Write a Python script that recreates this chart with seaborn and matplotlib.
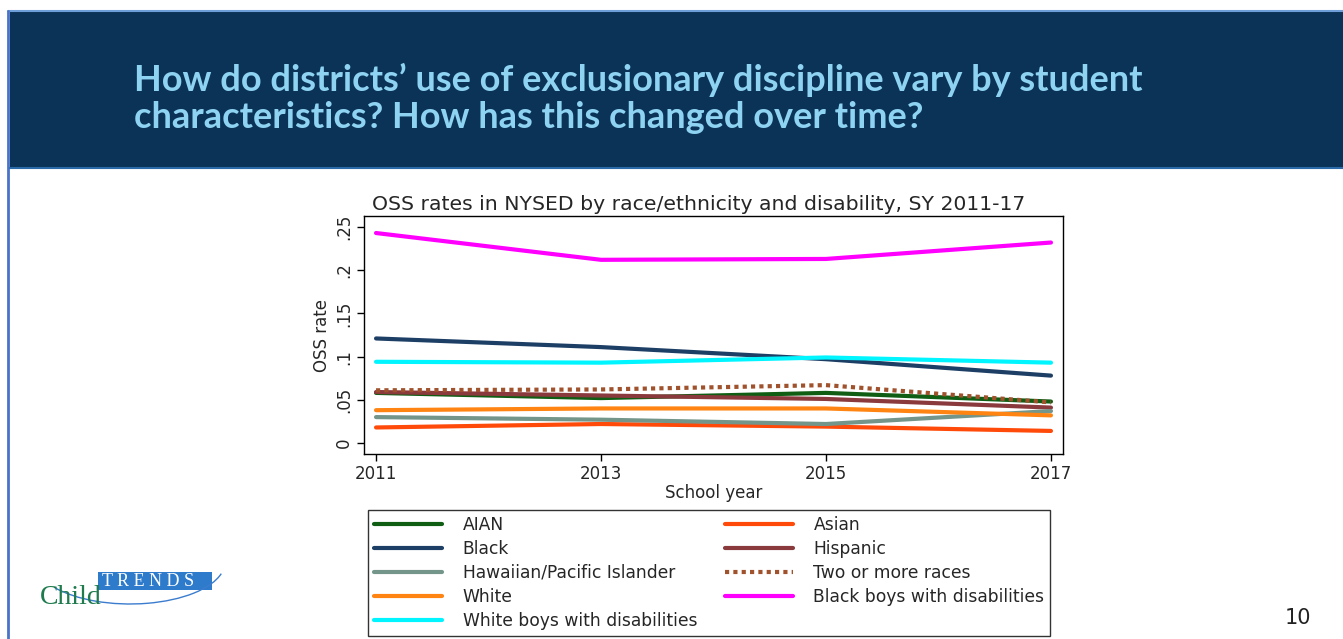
import numpy as np
import pandas as pd
import matplotlib.pyplot as plt
import matplotlib.patches as mpatches
from matplotlib.lines import Line2D
import seaborn as sns

years = [2011, 2013, 2015, 2017]

aian = [0.058, 0.052, 0.058, 0.048]
asian = [0.018, 0.022, 0.019, 0.014]
black = [0.121, 0.111, 0.097, 0.078]
hispanic = [0.059, 0.055, 0.051, 0.041]
hawaiian = [0.030, 0.027, 0.022, 0.037]
two_more = [0.061, 0.062, 0.067, 0.047]
white = [0.038, 0.040, 0.040, 0.032]
black_boys_dis = [0.243, 0.212, 0.213, 0.232]
white_boys_dis = [0.094, 0.093, 0.099, 0.093]

groups = {
    "AIAN": aian,
    "Asian": asian,
    "Black": black,
    "Hispanic": hispanic,
    "Hawaiian/Pacific Islander": hawaiian,
    "Two or more races": two_more,
    "White": white,
    "Black boys with disabilities": black_boys_dis,
    "White boys with disabilities": white_boys_dis,
}

colors = {
    "AIAN": "#0f5e14",
    "Asian": "#ff4a0a",
    "Black": "#1d3f66",
    "Hispanic": "#8a3a3c",
    "Hawaiian/Pacific Islander": "#74968a",
    "Two or more races": "#a0522d",
    "White": "#ff8412",
    "Black boys with disabilities": "#ff00ff",
    "White boys with disabilities": "#00f5ff",
}
dashes = {g: "" for g in groups}
dashes["Two or more races"] = (1, 1)

rows = []
for g, vals in groups.items():
    for y, v in zip(years, vals):
        rows.append({"year": y, "rate": v, "group": g})
df = pd.DataFrame(rows)

sns.set_style("white")
plt.rcParams["font.family"] = ["DejaVu Sans"]

fig = plt.figure(figsize=(13.43, 6.39), dpi=100)

# slide header band
fig.patches.append(mpatches.Rectangle((10 / 1343, 471 / 639), 1, 157 / 639, transform=fig.transFigure,
                                      facecolor="#0b3357", edgecolor="none", zorder=0))
fig.add_artist(Line2D([8 / 1343, 1], [628 / 639, 628 / 639], color="#6f9fd8", lw=1.5))
fig.add_artist(Line2D([8 / 1343, 8 / 1343], [0, 628 / 639], color="#4a72c8", lw=2))
fig.add_artist(Line2D([10 / 1343, 1], [471 / 639, 471 / 639], color="#2a6aa8", lw=1.5))

head_font = ["Lato", "DejaVu Sans"]
fig.text(134 / 1343, 559 / 639, "How do districts\u2019 use of exclusionary discipline vary by student",
         family=head_font, weight="bold", fontsize=26, color="#8ed3f2", va="center")
fig.text(134 / 1343, 521 / 639, "characteristics? How has this changed over time?",
         family=head_font, weight="bold", fontsize=26, color="#8ed3f2", va="center")

ax = fig.add_axes([364 / 1343, 185 / 639, 699 / 1343, 238 / 639])
sns.lineplot(data=df, x="year", y="rate", hue="group", style="group", palette=colors,
             dashes=dashes, linewidth=3, ax=ax, legend=False)

ax.set_xlim(2010.893, 2017.107)
ax.set_ylim(-0.0127, 0.2627)
ax.set_xticks(years)
ax.set_xticklabels([str(y) for y in years], fontsize=12)
ax.set_yticks([0, 0.05, 0.1, 0.15, 0.2, 0.25])
ax.set_yticklabels(["0", ".05", ".1", ".15", ".2", ".25"], rotation=90, va="center", fontsize=12)
ax.tick_params(axis="both", direction="out", length=5, width=1, color="black", bottom=True, left=True,
               pad=3)
for s in ax.spines.values():
    s.set_color("black")
    s.set_linewidth(1)
ax.set_xlabel("School year", fontsize=12, labelpad=1)
ax.set_ylabel("OSS rate", fontsize=12, labelpad=3)
ax.set_title("OSS rates in NYSED by race/ethnicity and disability, SY 2011-17", fontsize=14.7,
             pad=4, x=0.479)

order = ["AIAN", "Black", "Hawaiian/Pacific Islander", "White", "White boys with disabilities",
         "Asian", "Hispanic", "Two or more races", "Black boys with disabilities"]
handles = []
for g in order:
    ls = (0, (1, 1)) if g == "Two or more races" else "-"
    handles.append(Line2D([], [], color=colors[g], lw=3, linestyle=ls))
leg = fig.legend(handles, order, loc="upper left", ncol=2,
                 bbox_to_anchor=(368 / 1343, 129 / 639), bbox_transform=fig.transFigure,
                 fontsize=12.3, frameon=True, fancybox=False, edgecolor="black",
                 handlelength=4.0, handletextpad=1.2, labelspacing=0.35, columnspacing=1.6,
                 borderpad=0.35, borderaxespad=0)
leg.get_frame().set_linewidth(1)

# Child Trends logo
fig.patches.append(mpatches.Rectangle((98 / 1343, 49 / 639), 114 / 1343, 18 / 639, transform=fig.transFigure,
                                      facecolor="#2e7acb", edgecolor="none"))
fig.text(102 / 1343, 58 / 639, "T R E N D S", color="white", fontsize=13, family="Liberation Serif",
         va="center")
fig.text(40 / 1343, 42 / 639, "Child", color="#1f7a4d", fontsize=20, family="Liberation Serif", va="center")
fig.patches.append(mpatches.Arc((130 / 1343, 77 / 639), 190 / 1343, 84 / 639, theta1=215, theta2=345,
                                transform=fig.transFigure, color="#3b7ccf", lw=1))

fig.text(1298 / 1343, 21 / 639, "10", fontsize=15, ha="center", va="center", color="#222222")

fig.savefig("out.png", dpi=100)
